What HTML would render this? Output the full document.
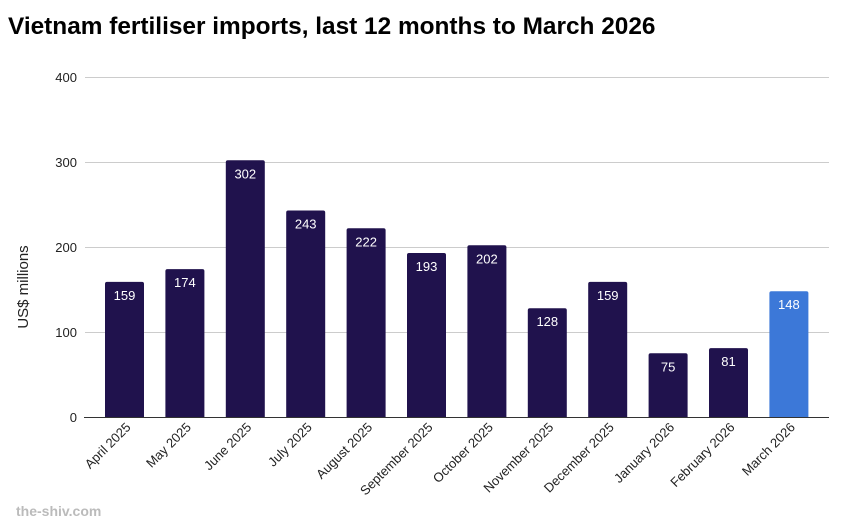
<!DOCTYPE html>
<html><head><style>body{margin:0;background:#fff}svg{display:block}</style></head><body>
<svg width="852" height="524" xmlns="http://www.w3.org/2000/svg" font-family="Liberation Sans, Arial, sans-serif">
<text x="8" y="34" font-size="24.4" font-weight="bold" fill="#000">Vietnam fertiliser imports, last 12 months to March 2026</text>
<g stroke="#ccc" stroke-width="1">
<line x1="85" x2="829" y1="77.5" y2="77.5"/><line x1="85" x2="829" y1="162.5" y2="162.5"/><line x1="85" x2="829" y1="247.5" y2="247.5"/><line x1="85" x2="829" y1="332.5" y2="332.5"/>
</g>
<g font-size="13" fill="#222" text-anchor="end">
<text x="77" y="82">400</text><text x="77" y="167">300</text><text x="77" y="252">200</text><text x="77" y="337">100</text><text x="77" y="422">0</text>
</g>
<text transform="translate(28,287) rotate(-90)" font-size="15" fill="#222" text-anchor="middle">US$ millions</text>
<g fill="#20124d">
<rect x="105" y="281.85" width="39" height="137" rx="2"/>
<rect x="165.4" y="269.1" width="39" height="150" rx="2"/>
<rect x="225.8" y="160.3" width="39" height="259" rx="2"/>
<rect x="286.2" y="210.45" width="39" height="209" rx="2"/>
<rect x="346.6" y="228.3" width="39" height="191" rx="2"/>
<rect x="407" y="252.95" width="39" height="166" rx="2"/>
<rect x="467.4" y="245.3" width="39" height="174" rx="2"/>
<rect x="527.8" y="308.2" width="39" height="111" rx="2"/>
<rect x="588.2" y="281.85" width="39" height="137" rx="2"/>
<rect x="648.6" y="353.25" width="39" height="66" rx="2"/>
<rect x="709" y="348.15" width="39" height="71" rx="2"/>
<rect x="769.4" y="291.2" width="39" height="128" rx="2" fill="#3c78d8"/>
</g>
<rect x="84" y="418" width="746" height="5" fill="#fff"/>
<g font-size="13" fill="#fff" text-anchor="middle">
<text x="124.5" y="299.9">159</text>
<text x="184.9" y="287.1">174</text>
<text x="245.3" y="178.3">302</text>
<text x="305.7" y="228.5">243</text>
<text x="366.1" y="246.3">222</text>
<text x="426.5" y="271">193</text>
<text x="486.9" y="263.3">202</text>
<text x="547.3" y="326.2">128</text>
<text x="607.7" y="299.9">159</text>
<text x="668.1" y="371.3">75</text>
<text x="728.5" y="366.2">81</text>
<text x="788.9" y="309.2">148</text>
</g>
<line x1="84" x2="829" y1="417.5" y2="417.5" stroke="#333" stroke-width="1"/>
<g font-size="13" fill="#222" text-anchor="end">
<text transform="translate(131.5,428) rotate(-45)">April 2025</text>
<text transform="translate(191.9,428) rotate(-45)">May 2025</text>
<text transform="translate(252.3,428) rotate(-45)">June 2025</text>
<text transform="translate(312.7,428) rotate(-45)">July 2025</text>
<text transform="translate(373.1,428) rotate(-45)">August 2025</text>
<text transform="translate(433.5,428) rotate(-45)">September 2025</text>
<text transform="translate(493.9,428) rotate(-45)">October 2025</text>
<text transform="translate(554.3,428) rotate(-45)">November 2025</text>
<text transform="translate(614.7,428) rotate(-45)">December 2025</text>
<text transform="translate(675.1,428) rotate(-45)">January 2026</text>
<text transform="translate(735.5,428) rotate(-45)">February 2026</text>
<text transform="translate(795.9,428) rotate(-45)">March 2026</text>
</g>
<text x="16" y="516" font-size="14" font-weight="bold" fill="#bbb">the-shiv.com</text>
</svg>
</body></html>
